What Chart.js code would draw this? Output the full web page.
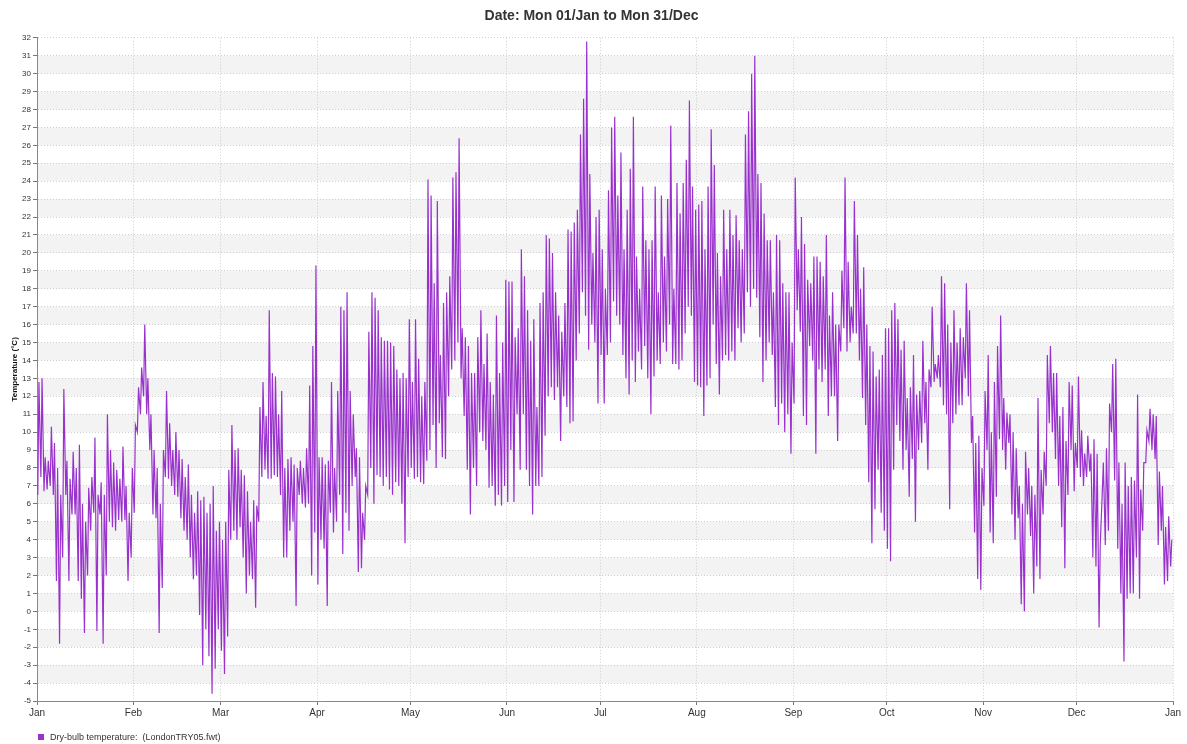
<!DOCTYPE html>
<html><head><meta charset="utf-8">
<script src="https://cdn.jsdelivr.net/npm/chart.js@4.4.0/dist/chart.umd.min.js"></script>
<style>
html,body{margin:0;padding:0;background:#fff;}
#wrap{position:relative;width:1187px;height:744px;}
#legend{position:absolute;left:38px;top:732px;font:9px Arial,"Liberation Sans",sans-serif;color:#333;display:flex;align-items:center;line-height:10px;}
#legend .sw{display:inline-block;width:6px;height:6px;background:#9932cc;margin-right:6px;}
</style></head><body>
<div id="wrap"><canvas id="c" width="1187" height="744"></canvas>
<div id="legend"><span class="sw"></span>Dry-bulb temperature:&nbsp;&nbsp;(LondonTRY05.fwt)</div></div>
<script>
// Tick labels and month start days (day-of-year)
const monthLabels = ["Jan","Feb","Mar","Apr","May","Jun","Jul","Aug","Sep","Oct","Nov","Dec","Jan"];
const monthStarts = [0,31,59,90,120,151,181,212,243,273,304,334,365];

// Daily minimum / maximum dry-bulb temperature (°C)
const minJan = [6.5,7.5,6.7,6.8,7.0,6.5,1.7,-1.8,3.0,6.5,1.7,5.4,5.4,1.7,0.7,-1.2,2.0,4.5,5.5,-1.1,5.4,-1.8,2.0,5.0,4.7,4.5,5.1,5.0,5.1,1.7,3.0];
const maxJan = [12.8,13.0,8.6,8.4,10.3,9.4,8.0,6.5,12.4,8.4,7.4,8.9,8.0,9.3,6.0,5.0,6.9,7.5,9.7,6.5,7.2,6.5,11.0,9.0,8.3,7.9,7.4,9.2,7.0,5.5,8.0];
const minFeb = [5.5,10.0,11.0,12.0,11.0,9.0,5.4,5.2,-1.2,1.3,7.5,7.4,7.0,6.5,6.4,5.2,4.5,4.0,3.0,1.8,2.0,-0.2,-3.0,-1.0,-2.5,-4.6,-3.2,-1.0];
const maxFeb = [10.4,12.5,13.6,16.0,13.0,11.0,9.0,8.0,6.0,9.0,12.3,10.5,9.0,10.0,9.0,8.5,7.5,8.2,6.5,5.5,6.7,6.2,6.4,5.5,6.0,7.0,4.5,5.0];
const minMar = [-2.2,-3.5,-1.4,4.0,4.5,4.0,4.7,3.0,1.0,2.0,1.8,0.2,5.0,7.5,7.9,7.4,7.4,7.6,7.5,6.5,3.0,3.0,4.5,5.0,0.3,6.5,6.0,5.8,6.0,2.0,4.4];
const maxMar = [4.0,5.0,7.9,10.4,9.0,9.1,7.9,7.6,6.7,5.0,6.2,5.9,11.4,12.8,10.9,16.8,13.3,13.1,11.0,12.3,8.0,8.5,8.6,8.2,8.0,8.4,8.0,9.1,12.6,14.8,19.3];
const minApr = [1.5,4.0,3.5,0.3,5.5,4.4,5.0,6.5,3.2,5.5,4.5,7.0,7.5,2.2,2.4,4.0,6.5,8.0,6.0,7.6,7.5,7.0,7.5,6.8,6.5,7.2,7.0,6.0,3.8,7.5];
const maxApr = [8.6,8.6,8.2,8.4,12.8,8.0,12.3,17.0,16.8,17.8,12.3,11.0,9.1,8.6,5.5,7.0,15.6,17.8,17.5,16.8,15.3,15.1,15.1,15.0,14.8,13.5,13.0,13.3,13.0,16.3];
const minMay = [8.0,7.4,7.5,7.2,7.1,8.4,9.0,10.4,8.0,10.5,8.6,8.5,12.0,13.5,14.0,15.0,13.0,10.9,7.9,5.4,8.0,7.0,10.0,9.5,9.0,6.9,7.0,5.9,6.5,5.9,7.0];
const maxMay = [12.8,16.3,14.1,12.0,12.8,24.1,23.2,18.3,22.9,14.3,17.2,17.8,18.7,24.2,24.5,26.4,15.8,15.3,14.8,13.3,13.3,15.3,16.8,13.8,15.5,12.8,12.1,16.5,13.3,15.0,18.5];
const minJun = [6.1,9.0,6.1,11.0,7.9,11.0,7.9,7.0,5.4,7.0,7.0,7.5,9.8,12.0,12.5,11.8,12.5,9.5,12.0,11.4,10.5,10.6,14.0,15.5,17.8,16.5,14.6,16.0,15.0,11.6];
const maxJun = [18.4,18.4,15.3,15.8,20.2,18.7,16.8,15.1,16.3,11.4,17.2,17.8,21.0,20.8,20.0,17.8,16.5,15.6,17.2,21.3,21.2,21.7,22.4,26.6,28.6,31.8,24.4,20.0,22.0,22.4];
const minJul = [14.3,11.6,14.3,15.0,17.3,16.5,16.0,14.3,13.0,12.1,14.0,12.8,14.5,13.5,14.8,13.0,11.0,13.1,14.0,13.8,15.0,14.5,16.0,13.8,13.8,13.5,14.0,15.5,17.0,16.5,12.8];
const maxJul = [20.2,18.0,23.5,27.0,27.6,23.2,25.6,20.2,22.4,24.7,27.6,19.8,18.0,23.7,20.7,20.2,20.7,23.7,17.8,23.2,19.8,23.0,27.1,18.0,23.9,22.2,23.9,25.2,28.5,23.7,22.4];
const minAug = [12.6,12.5,10.9,12.6,13.0,16.0,13.8,12.1,14.0,14.3,14.0,14.5,14.0,15.8,15.0,15.5,17.8,17.0,18.0,17.5,15.3,12.8,14.0,15.0,14.3,11.4,10.4,11.6,10.0,11.0,8.8];
const maxAug = [22.7,22.9,20.2,23.7,26.9,24.9,20.0,18.7,22.4,20.2,22.4,21.0,22.1,20.7,20.2,26.6,27.9,30.0,31.0,24.4,23.9,22.2,20.7,20.7,17.8,21.0,20.7,18.3,17.8,17.8,15.0];
const minSep = [11.6,16.8,15.6,10.9,10.4,14.8,14.0,8.8,13.5,12.8,13.5,10.9,12.0,12.0,9.5,14.5,15.8,14.5,15.0,15.5,15.5,14.0,11.9,10.4,7.2,3.8,5.7,7.9,5.5,4.5];
const maxSep = [24.2,20.2,22.0,20.5,18.5,18.3,19.8,19.8,19.5,18.7,21.0,16.5,17.8,16.0,16.0,19.0,24.2,19.5,17.0,22.9,21.0,18.0,19.2,16.0,14.8,14.5,13.1,13.5,14.3,15.8];
const minOct = [3.5,2.8,7.9,10.4,9.5,7.9,9.0,6.4,8.5,5.0,9.0,9.4,10.5,7.9,12.5,12.8,13.0,12.5,11.5,11.0,5.7,10.5,11.0,11.5,11.5,13.0,12.0,9.4,4.4,1.8,1.2];
const maxOct = [15.8,16.8,17.2,16.3,14.6,15.1,11.9,12.5,14.3,12.1,12.3,15.1,12.8,13.5,17.0,13.8,14.3,18.7,18.3,16.0,15.0,16.8,15.0,15.8,15.3,18.3,16.8,10.9,9.4,9.8,8.0];
const minNov = [5.9,9.0,4.4,3.8,6.4,9.6,9.0,7.9,9.4,5.4,4.0,5.2,0.4,0.0,5.4,4.2,1.0,2.5,1.8,5.4,7.0,10.5,10.0,8.5,7.0,4.7,2.4,6.5,9.0,6.7];
const maxNov = [12.3,14.3,10.0,12.8,14.8,16.5,11.9,11.1,11.0,10.0,9.1,7.0,6.0,8.9,8.0,7.0,6.5,11.9,7.9,8.9,14.3,14.8,13.3,13.3,10.9,11.4,9.5,12.8,12.6,9.4];
const minDec = [8.0,7.5,7.0,7.5,7.8,3.0,2.5,-0.9,6.5,3.7,4.5,10.0,7.3,3.5,1.0,-2.8,0.7,1.0,1.0,3.0,0.7,4.5,8.3,9.5,9.0,8.5,3.7,4.5,1.5,1.7,2.5];
const maxDec = [13.1,10.1,8.8,9.8,8.8,9.6,8.8,3.7,8.3,9.1,11.6,13.8,14.1,8.3,6.0,8.3,7.0,7.5,7.3,12.1,6.8,8.3,10.1,11.3,11.0,10.9,7.8,7.0,4.7,5.3,4.0];

const dailyMin = [].concat(minJan,minFeb,minMar,minApr,minMay,minJun,minJul,minAug,minSep,minOct,minNov,minDec);
const dailyMax = [].concat(maxJan,maxFeb,maxMar,maxApr,maxMay,maxJun,maxJul,maxAug,maxSep,maxOct,maxNov,maxDec);

// Each day: minimum around 06:00, maximum around 15:00
const points = [];
for (let d = 0; d < dailyMin.length; d++) {
  points.push({x: d + 0.25, y: dailyMin[d]});
  points.push({x: d + 0.62, y: dailyMax[d]});
}

const FONT = 'Arial, "Liberation Sans", sans-serif';

const bandPlugin = {
  id: 'bands',
  beforeDraw(chart) {
    const {ctx, chartArea} = chart;
    const y = chart.scales.y;
    ctx.save();
    ctx.fillStyle = '#f3f3f3';
    for (let v = -5; v < 32; v++) {
      if (((v % 2) + 2) % 2 === 0) {
        const top = y.getPixelForValue(v + 1);
        const bot = y.getPixelForValue(v);
        ctx.fillRect(chartArea.left, top, chartArea.right - chartArea.left, bot - top);
      }
    }
    ctx.restore();
  }
};

new Chart(document.getElementById('c'), {
  type: 'line',
  data: {
    datasets: [{
      label: 'Dry-bulb temperature:  (LondonTRY05.fwt)',
      data: points,
      borderColor: '#9932cc',
      backgroundColor: '#9932cc',
      borderWidth: 1.2,
      pointRadius: 0,
      tension: 0,
      fill: false
    }]
  },
  options: {
    responsive: false,
    animation: false,
    layout: {padding: {left: 10, right: 14, top: 0, bottom: 21}},
    plugins: {
      legend: {display: false},
      tooltip: {enabled: false},
      title: {
        display: true,
        text: 'Date: Mon 01/Jan to Mon 31/Dec',
        color: '#333',
        font: {family: FONT, size: 14, weight: 'bold'},
        padding: {top: 8, bottom: 13}
      }
    },
    scales: {
      x: {
        type: 'linear',
        min: 0, max: 365,
        afterBuildTicks(scale) { scale.ticks = monthStarts.map(v => ({value: v})); },
        afterFit(scale) { scale.height = 22; },
        ticks: {
          autoSkip: false, maxRotation: 0, padding: 2,
          color: '#333', font: {family: FONT, size: 10},
          callback(v) { const i = monthStarts.indexOf(v); return i >= 0 ? monthLabels[i] : ''; }
        },
        grid: {color: '#cfcfcf', tickLength: 4, tickColor: '#777'},
        border: {display: true, color: '#888', dash: [1, 2]}
      },
      y: {
        min: -5, max: 32,
        afterFit(scale) { scale.width = 27; },
        ticks: {
          stepSize: 1, autoSkip: false, padding: 2,
          color: '#333', font: {family: FONT, size: 8}
        },
        grid: {color: '#cfcfcf', tickLength: 4, tickColor: '#777'},
        border: {display: true, color: '#888', dash: [1, 2]},
        title: {
          display: true, text: 'Temperature (°C)', color: '#111',
          font: {family: FONT, size: 8, weight: 'bold'}, padding: {top: 0, bottom: 2}
        }
      }
    }
  },
  plugins: [bandPlugin]
});
</script>
</body></html>
